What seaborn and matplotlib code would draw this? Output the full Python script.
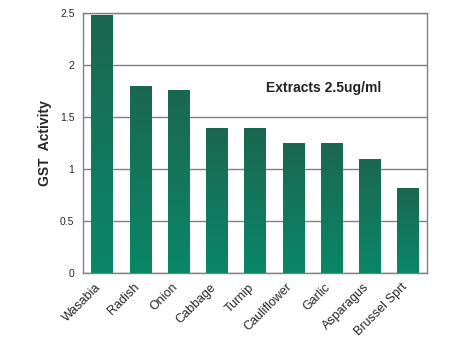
import numpy as np
import pandas as pd
import matplotlib
matplotlib.use("Agg")
import matplotlib.pyplot as plt
import matplotlib.transforms as mtransforms
import seaborn as sns
from matplotlib.colors import LinearSegmentedColormap

categories = ["Wasabia", "Radish", "Onion", "Cabbage", "Turnip", "Cauliflower", "Garlic", "Asparagus", "Brussel Sprt"]
values = [2.48, 1.80, 1.76, 1.39, 1.39, 1.25, 1.25, 1.10, 0.82]
yticks = [0, 0.5, 1, 1.5, 2, 2.5]
ytick_labels = ["0", "0.5", "1", "1.5", "2", "2.5"]

sns.set_style("white")
plt.rcParams['font.family'] = ['Liberation Sans', 'DejaVu Sans']

df = pd.DataFrame({"cat": categories, "val": values})
fig = plt.figure(figsize=(4.5, 3.42), dpi=100)
ax = fig.add_axes([0.184, 0.202, 0.765, 0.76])
sns.barplot(data=df, x="cat", y="val", ax=ax, width=0.55, color="#12785a",
            edgecolor="#5fb59a", linewidth=0.6, zorder=3)

cmap = LinearSegmentedColormap.from_list("g", ["#0a8768", "#1b6750"])
grad = np.linspace(0, 1, 256).reshape(-1, 1)
for p in ax.patches:
    x0, y0 = p.get_x(), p.get_y()
    w, h = p.get_width(), p.get_height()
    im = ax.imshow(grad, cmap=cmap, origin="lower", aspect="auto",
                   extent=[x0, x0 + w, y0, y0 + h], zorder=3.5)
    im.set_clip_path(p)

ax.set_xlim(-0.5, len(categories) - 0.5)
ax.set_ylim(0, 2.5)
ax.set_yticks(yticks)
ax.set_yticklabels(ytick_labels, fontsize=7.5)
ax.yaxis.grid(True, color="#808080", linewidth=1.0, zorder=0)
ax.set_axisbelow(True)
for s in ax.spines.values():
    s.set_color("#808080")
    s.set_linewidth(1.0)
ax.tick_params(axis="both", length=0, pad=6)
ax.set_xticks(range(len(categories)))
ax.set_xticklabels(categories, rotation=45, ha="right", rotation_mode="anchor", fontsize=9)
offset = mtransforms.ScaledTranslation(-5 / 72, 0, fig.dpi_scale_trans)
for lbl in ax.get_xticklabels():
    lbl.set_transform(lbl.get_transform() + offset)
ax.set_xlabel("")
ax.set_ylabel("GST  Activity", fontsize=10, fontweight="bold", labelpad=6)
ax.text(0.7, 0.71, "Extracts 2.5ug/ml", transform=ax.transAxes, ha="center", va="center",
        fontsize=10, fontweight="bold", color="#222222")

fig.savefig("out.png", dpi=100)
